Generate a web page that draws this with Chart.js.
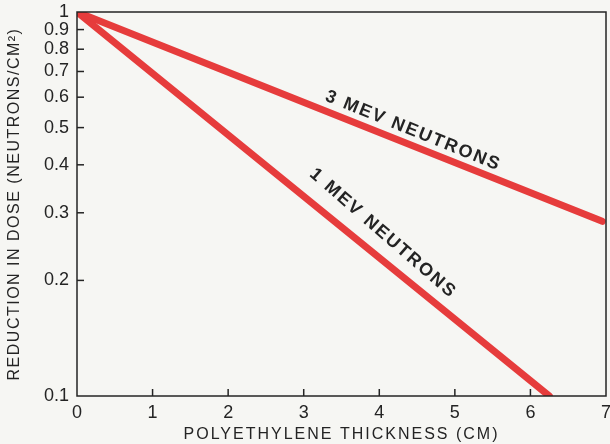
<!DOCTYPE html>
<html>
<head>
<meta charset="utf-8">
<script src="https://cdn.jsdelivr.net/npm/chart.js@4/dist/chart.umd.min.js"></script>
<style>
  html, body { margin: 0; padding: 0; background: #f6f6f3; }
  #wrap { width: 610px; height: 444px; }
</style>
</head>
<body>
<div id="wrap"><canvas id="doseChart" width="610" height="444"></canvas></div>
<script>
// thickness in cm, dose reduction
const mev3Thickness = [0, 6.95];
const mev3Dose = [1, 0.285];
const mev1Thickness = [0, 6.25];
const mev1Dose = [1, 0.1];

const xTicks = [0, 1, 2, 3, 4, 5, 6, 7];
const yTicks = [0.1, 0.2, 0.3, 0.4, 0.5, 0.6, 0.7, 0.8, 0.9, 1];

// label text, anchor (data coords), angle in degrees
const curveLabels = [
  { text: '3 MEV NEUTRONS', x: 4.45, y: 0.49, angle: 22 },
  { text: '1 MEV NEUTRONS', x: 4.05, y: 0.265, angle: 41 }
];

const ink = '#242424';
const red = '#e63c3c';

function toPoints(xs, ys) {
  return xs.map((x, i) => ({ x: x, y: ys[i] }));
}

// wider letter spacing only for the axis titles
function spacedTitle(s, spacing) {
  if (s._spaced) return;
  s._spaced = true;
  const orig = s.drawTitle;
  s.drawTitle = function () {
    this.ctx.save();
    this.ctx.letterSpacing = spacing;
    orig.apply(this, arguments);
    this.ctx.restore();
  };
}

// plot frame, inward tick marks and curve labels
const framePlugin = {
  id: 'frame',
  afterDraw(chart) {
    const ctx = chart.ctx;
    const a = chart.chartArea;
    const xs = chart.scales.x;
    const ys = chart.scales.y;
    ctx.save();
    ctx.strokeStyle = ink;
    ctx.lineWidth = 1.5;
    ctx.strokeRect(a.left, a.top, a.right - a.left, a.bottom - a.top);

    xTicks.slice(1, -1).forEach(v => {
      const px = xs.getPixelForValue(v);
      ctx.beginPath();
      ctx.moveTo(px, a.bottom);
      ctx.lineTo(px, a.bottom - 7);
      ctx.stroke();
    });
    yTicks.slice(1, -1).forEach(v => {
      const py = ys.getPixelForValue(v);
      ctx.beginPath();
      ctx.moveTo(a.left, py);
      ctx.lineTo(a.left + 7, py);
      ctx.stroke();
    });

    ctx.fillStyle = ink;
    ctx.font = 'bold 18px "Liberation Sans"';
    ctx.letterSpacing = '2px';
    ctx.textAlign = 'center';
    ctx.textBaseline = 'middle';
    curveLabels.forEach(l => {
      ctx.save();
      ctx.translate(xs.getPixelForValue(l.x), ys.getPixelForValue(l.y));
      ctx.rotate(l.angle * Math.PI / 180);
      ctx.fillText(l.text, 0, 0);
      ctx.restore();
    });
    ctx.restore();
  }
};

new Chart(document.getElementById('doseChart'), {
  type: 'line',
  data: {
    datasets: [
      {
        label: '3 MeV neutrons',
        data: toPoints(mev3Thickness, mev3Dose),
        borderColor: red,
        borderWidth: 7,
        pointRadius: 0,
        borderCapStyle: 'round',
        fill: false
      },
      {
        label: '1 MeV neutrons',
        data: toPoints(mev1Thickness, mev1Dose),
        borderColor: red,
        borderWidth: 7,
        pointRadius: 0,
        borderCapStyle: 'round',
        fill: false
      }
    ]
  },
  options: {
    responsive: false,
    animation: false,
    layout: { padding: { top: 12, right: 4, left: 0, bottom: 0 } },
    plugins: {
      legend: { display: false },
      tooltip: { enabled: false }
    },
    scales: {
      x: {
        type: 'linear',
        min: 0,
        max: 7,
        afterBuildTicks: s => { s.ticks = xTicks.map(v => ({ value: v })); },
        afterFit: s => {
          s.height = 48;
          s.paddingLeft = 0;
          s.paddingRight = 0;
          spacedTitle(s, '2px');
        },
        grid: { display: false, drawTicks: false },
        border: { display: false },
        ticks: {
          color: ink,
          padding: 6,
          font: { family: 'Liberation Sans', size: 18 },
          maxRotation: 0
        },
        title: {
          display: true,
          text: 'POLYETHYLENE THICKNESS (CM)',
          color: ink,
          padding: 0,
          font: { family: 'Liberation Sans', size: 16 }
        }
      },
      y: {
        type: 'logarithmic',
        min: 0.1,
        max: 1,
        afterBuildTicks: s => { s.ticks = yTicks.map(v => ({ value: v })); },
        afterFit: s => {
          s.width = 77;
          s.paddingTop = 0;
          s.paddingBottom = 0;
          spacedTitle(s, '1.5px');
        },
        grid: { display: false, drawTicks: false },
        border: { display: false },
        ticks: {
          color: ink,
          padding: 8,
          autoSkip: false,
          font: { family: 'Liberation Sans', size: 18 },
          callback: v => String(v)
        },
        title: {
          display: true,
          text: 'REDUCTION IN DOSE (NEUTRONS/CM²)',
          color: ink,
          padding: 5,
          font: { family: 'Liberation Sans', size: 16 }
        }
      }
    }
  },
  plugins: [framePlugin]
});
</script>
</body>
</html>
